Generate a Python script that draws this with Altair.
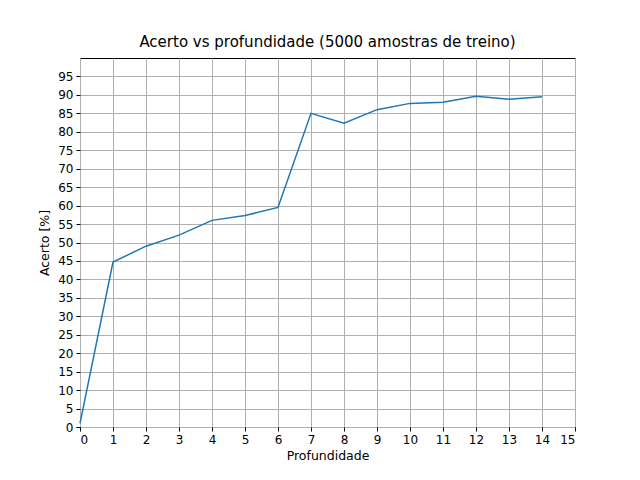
import altair as alt
import pandas as pd

depth = list(range(15))
accuracy = [1.0, 44.7, 49.0, 52.0, 56.0, 57.3, 59.5, 85.0, 82.3, 86.0, 87.7, 88.0, 89.6, 88.8, 89.5]

df = pd.DataFrame({"Profundidade": depth, "Acerto": accuracy})

font = "DejaVu Sans"

chart = alt.Chart(df).mark_line(color="#1f77b4", strokeWidth=1.5).encode(
    x=alt.X("Profundidade:Q", title="Profundidade",
            scale=alt.Scale(domain=[0, 15], nice=False),
            axis=alt.Axis(values=list(range(16)), format="d", titlePadding=4)),
    y=alt.Y("Acerto:Q", title="Acerto [%]",
            scale=alt.Scale(domain=[0, 100], nice=False),
            axis=alt.Axis(values=list(range(0, 100, 5)), format="d", titlePadding=6)),
).properties(
    width=495,
    height=369,
    title=alt.TitleParams("Acerto vs profundidade (5000 amostras de treino)",
                          font=font, fontSize=15, fontWeight="normal", color="black", offset=8),
    autosize=alt.AutoSizeParams(type="none"),
    padding={"left": 72, "top": 50, "right": 57, "bottom": 45},
).configure_view(
    stroke="black", strokeWidth=1
).configure_axis(
    grid=True, gridColor="#b0b0b0", gridWidth=1, gridOpacity=1,
    domain=False, tickColor="black", tickSize=4,
    labelFont=font, labelFontSize=12, labelColor="black",
    titleFont=font, titleFontSize=12.5, titleFontWeight="normal", titleColor="black",
    labelPadding=3,
)

chart.save("out.html", embed_options={"renderer": "svg", "actions": False})
